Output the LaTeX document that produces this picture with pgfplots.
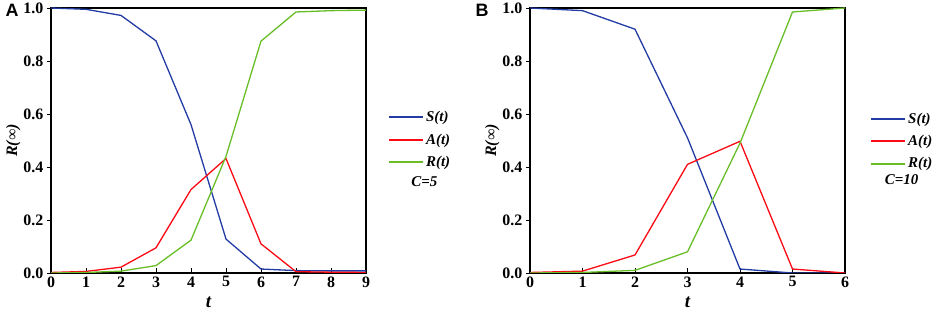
\documentclass[border=0pt]{standalone}
\usepackage{pgfplots}
\pgfplotsset{compat=1.18}
\usepackage{fontspec}
\setmainfont{Liberation Serif}
\newfontfamily\sansb{Liberation Sans}
\definecolor{colS}{RGB}{35,60,165}
\definecolor{colA}{RGB}{250,10,20}
\definecolor{colR}{RGB}{105,190,40}
\pgfplotsset{
  myax/.style={
    scale only axis, width=315bp, height=265bp,
    ymin=0, ymax=1, xmin=0, clip mode=individual,
    ytick={0,0.2,...,1.0},
    /pgf/number format/.cd, fixed, fixed zerofill, precision=1, assume math mode=true, /pgfplots/.cd,
    xticklabel style={/pgf/number format/precision=0},
    tick label style={font=\fontsize{16}{18}\selectfont\bfseries},
    xtick pos=bottom, ytick pos=left,
    x tick style={black, line width=0.8bp, /pgfplots/major tick length=5bp},
    y tick style={black, line width=0.8bp, /pgfplots/major tick length=4bp},
    xtick align=inside, ytick align=outside,
    axis line style={black, line width=1.3bp},
    xlabel={\fontsize{19}{19}\selectfont\bfseries\itshape t},
    ylabel={\fontsize{16}{18}\selectfont\bfseries\itshape R(∞)},
    xlabel style={yshift=-3bp},
    ylabel style={yshift=-4bp},
    legend style={draw=none, fill=none, font=\fontsize{15}{17}\selectfont\bfseries\itshape,
      /tikz/every even column/.append style={column sep=2bp},
      row sep=6.5bp, cells={anchor=west}},
    legend image code/.code={\draw[#1] (0bp,0bp) -- (34bp,0bp);},
  }
}
\begin{document}
\begin{tikzpicture}
\useasboundingbox (0bp,0bp) rectangle (941bp,316bp);
\begin{axis}[myax, at={(51bp,43bp)}, anchor=south west, xmax=9, xtick={0,...,9},
  legend style={at={(1.06,0.625)}, anchor=north west}]
\addplot[color=colS, line width=1.3bp, forget plot] coordinates {(0,1.0) (1,0.995) (2,0.972) (3,0.876) (4,0.56) (5,0.128) (6,0.015) (7,0.009) (8,0.008) (9,0.008)};
\addplot[color=colA, line width=1.3bp, forget plot] coordinates {(0,0.002) (1,0.006) (2,0.022) (3,0.095) (4,0.315) (5,0.432) (6,0.11) (7,0.005) (8,0.003) (9,0.002)};
\addplot[color=colR, line width=1.3bp, forget plot] coordinates {(0,0.0) (1,0.002) (2,0.007) (3,0.028) (4,0.124) (5,0.44) (6,0.875) (7,0.985) (8,0.99) (9,0.992)};
\addlegendimage{color=colS, line width=2bp}
\addlegendentry{S(t)}
\addlegendimage{color=colA, line width=2bp}
\addlegendentry{A(t)}
\addlegendimage{color=colR, line width=2bp}
\addlegendentry{R(t)}
\node[font=\fontsize{15}{17}\selectfont\bfseries\itshape] at (rel axis cs:1.185,0.343) {C=5};
\end{axis}
\node[font=\fontsize{18}{18}\selectfont\sansb\bfseries, anchor=north west] at (2bp,315bp) {A};
\begin{axis}[myax, at={(530bp,43bp)}, anchor=south west, xmax=6, xtick={0,...,6},
  legend style={at={(1.07,0.62)}, anchor=north west}]
\addplot[color=colS, line width=1.3bp, forget plot] coordinates {(0,1.0) (1,0.99) (2,0.92) (3,0.51) (4,0.015) (5,0.0) (6,0.0)};
\addplot[color=colA, line width=1.3bp, forget plot] coordinates {(0,0.002) (1,0.007) (2,0.068) (3,0.41) (4,0.497) (5,0.015) (6,0.0)};
\addplot[color=colR, line width=1.3bp, forget plot] coordinates {(0,0.0) (1,0.002) (2,0.01) (3,0.08) (4,0.49) (5,0.985) (6,1.0)};
\addlegendimage{color=colS, line width=2bp}
\addlegendentry{S(t)}
\addlegendimage{color=colA, line width=2bp}
\addlegendentry{A(t)}
\addlegendimage{color=colR, line width=2bp}
\addlegendentry{R(t)}
\node[font=\fontsize{15}{17}\selectfont\bfseries\itshape] at (rel axis cs:1.18,0.351) {C=10};
\end{axis}
\node[font=\fontsize{18}{18}\selectfont\sansb\bfseries, anchor=north west] at (472bp,315bp) {B};
\end{tikzpicture}
\end{document}
